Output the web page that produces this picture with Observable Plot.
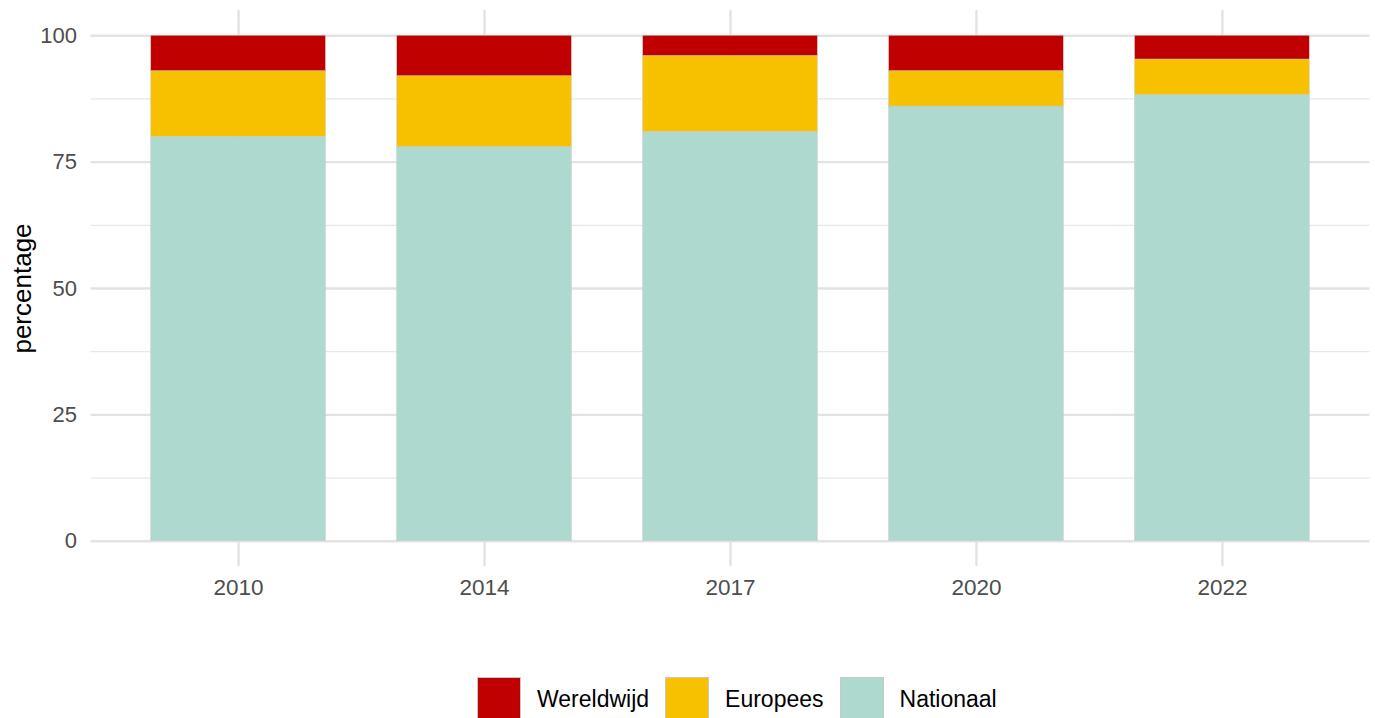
<!DOCTYPE html>
<html>
<head>
<meta charset="utf-8">
<script src="https://cdn.jsdelivr.net/npm/d3@7"></script>
<script src="https://cdn.jsdelivr.net/npm/@observablehq/plot@0.6"></script>
<style>
  body { margin: 0; background: #fff; font-family: "Liberation Sans", Arial, sans-serif; }
  #wrap { position: relative; width: 1375px; height: 718px; overflow: hidden; }
  #legend { position: absolute; top: 677px; left: 477px; display: flex; align-items: center; font-size: 23px; color: #000; }
  #legend .key { width: 44px; height: 44px; box-sizing: border-box; border: 0.6px solid #c8c8c8; margin-right: 16px; }
  #legend .lab { margin-right: 16px; line-height: 44px; }
</style>
</head>
<body>
<div id="wrap">
  <div id="chart"></div>
  <div id="legend"></div>
</div>
<script>
const years = ["2010", "2014", "2017", "2020", "2022"];
const nationaal = [80, 78, 81, 86, 88.3];
const europees = [13, 14, 15, 7, 7];
const wereldwijd = [7, 8, 4, 7, 4.7];
const seriesNames = ["Wereldwijd", "Europees", "Nationaal"];
const seriesColors = ["#C00000", "#F8C100", "#ADD9CF"];
const yTicks = [0, 25, 50, 75, 100];
const yMinor = [12.5, 37.5, 62.5, 87.5];

const data = [];
years.forEach((y, i) => {
  data.push({year: y, series: "Nationaal", value: nationaal[i]});
  data.push({year: y, series: "Europees", value: europees[i]});
  data.push({year: y, series: "Wereldwijd", value: wereldwijd[i]});
});

const chart = Plot.plot({
  width: 1375,
  height: 660,
  marginLeft: 90.5,
  marginRight: 5.5,
  marginTop: 10,
  marginBottom: 94,
  style: {fontFamily: "'Liberation Sans', Arial, sans-serif", background: "#fff", color: "#4d4d4d"},
  x: {type: "band", domain: years, paddingInner: 0.29, paddingOuter: 0.245, round: false, label: null},
  y: {domain: [-5, 105], label: null},
  color: {domain: seriesNames, range: seriesColors},
  marks: [
    Plot.ruleY(yMinor, {stroke: "#e8e8e8", strokeWidth: 1.2}),
    Plot.ruleY(yTicks, {stroke: "#e3e3e3", strokeWidth: 2.4}),
    Plot.ruleX(years, {y1: -5, y2: 105, stroke: "#e3e3e3", strokeWidth: 2.4}),
    Plot.barY(data, Plot.stackY({
      x: "year", y: "value", fill: "series",
      order: ["Nationaal", "Europees", "Wereldwijd"],
      inset: 0, stroke: "#c8c8c8", strokeWidth: 0.5
    })),
    Plot.axisY({ticks: yTicks, tickSize: 0, tickPadding: 14, fontSize: 22, label: null, fill: "#4d4d4d"}),
    Plot.axisX({tickSize: 0, tickPadding: 13, fontSize: 22.5, label: null, fill: "#4d4d4d"}),
    Plot.text(["percentage"], {frameAnchor: "left", dx: -68.5, rotate: -90, fontSize: 26, fill: "#000", textAnchor: "middle"})
  ]
});
document.getElementById("chart").appendChild(chart);

const legend = document.getElementById("legend");
seriesNames.forEach((name, i) => {
  const k = document.createElement("div");
  k.className = "key";
  k.style.background = seriesColors[i];
  legend.appendChild(k);
  const t = document.createElement("div");
  t.className = "lab";
  t.textContent = name;
  legend.appendChild(t);
});
</script>
</body>
</html>
